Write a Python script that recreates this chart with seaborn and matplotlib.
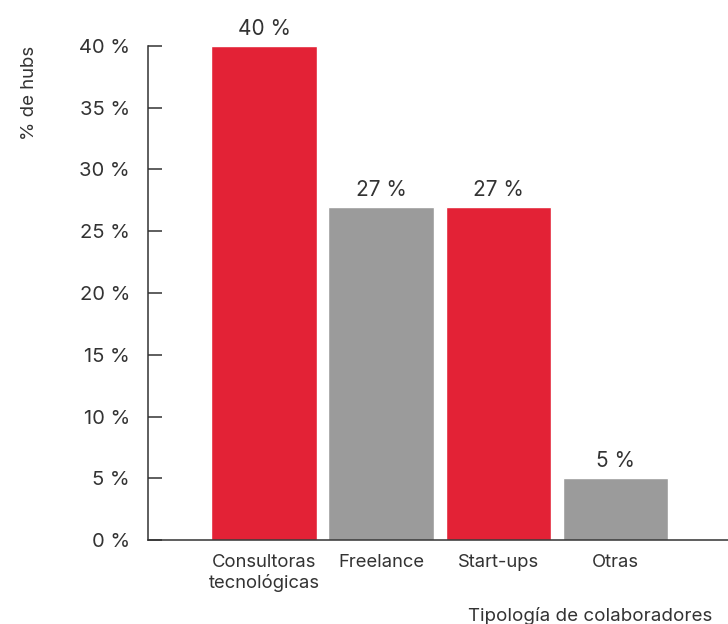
import matplotlib
matplotlib.use("Agg")
import matplotlib.pyplot as plt
import seaborn as sns
import pandas as pd

# data
categorias = ["Consultoras\ntecnológicas", "Freelance", "Start-ups", "Otras"]
porcentajes = [40, 27, 27, 5]
colores = ["#E32236", "#9B9B9B", "#E32236", "#9B9B9B"]
yticks = [0, 5, 10, 15, 20, 25, 30, 35, 40]

sns.set_theme(style="white")
plt.rcParams["font.family"] = ["Inter", "DejaVu Sans"]
TXT = "#333333"

df = pd.DataFrame({"cat": categorias, "pct": porcentajes})

fig = plt.figure(figsize=(7.28, 6.24), dpi=100)
ax = fig.add_axes([148/728, 84/624, 1 - 148/728, (540-46)/624])

sns.barplot(data=df, x="cat", y="pct", hue="cat", palette=colores,
            legend=False, width=0.9, saturation=1, ax=ax)

for c in ax.containers:
    ax.bar_label(c, labels=[f"{v:.0f} %" for v in c.datavalues],
                 padding=5, fontsize=15, color=TXT, clip_on=False)

ax.set_ylim(0, 40)
ax.set_xlim(-0.99, 3.96)
ax.set_yticks(yticks)
ax.set_yticklabels([f"{t} %" for t in yticks], fontsize=14.5, color=TXT)
ax.tick_params(axis="y", left=True, direction="in", length=10, width=1.1,
               color="#333333", pad=13)
ax.tick_params(axis="x", length=0, pad=10, labelsize=13.3, labelcolor=TXT)

for s in ["top", "right"]:
    ax.spines[s].set_visible(False)
for s in ["left", "bottom"]:
    ax.spines[s].set_color("#333333")
    ax.spines[s].set_linewidth(1.1)

ax.set_ylabel("% de hubs", fontsize=13.4, color=TXT, loc="top")
ax.yaxis.set_label_coords(-0.19, 1.0)
ax.set_xlabel("Tipología de colaboradores", fontsize=13.5, color=TXT, loc="right")
ax.xaxis.set_label_coords((712-148)/(728-148), -0.135)

fig.savefig("out.png", dpi=100)
